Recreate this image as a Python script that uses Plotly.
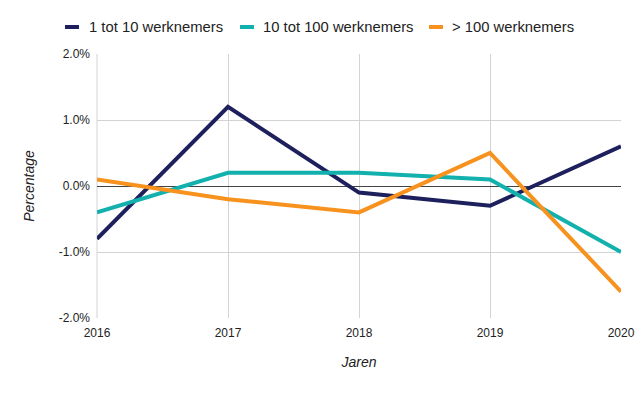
import plotly.graph_objects as go

years = [2016, 2017, 2018, 2019, 2020]
series_names = ["1 tot 10 werknemers", "10 tot 100 werknemers", "> 100 werknemers"]
small = [-0.8, 1.2, -0.1, -0.3, 0.6]
medium = [-0.4, 0.2, 0.2, 0.1, -1.0]
large = [0.1, -0.2, -0.4, 0.5, -1.6]
colors = ["#1d205c", "#12b1ad", "#f7921e"]
y_ticks = [-2.0, -1.0, 0.0, 1.0, 2.0]
y_tick_labels = ["-2.0%", "-1.0%", "0.0%", "1.0%", "2.0%"]

# plot area in page pixels: x 97..621, y 54..318 (page body margin removed)
PX_L, PX_R, PX_T, PX_B = 97, 621, 54, 318
W, H = 640, 396


def px_x(p):
    return (p - PX_L) / (PX_R - PX_L)


def px_y(p):
    return (PX_B - p) / (PX_B - PX_T)


fig = go.Figure()
for name, vals, c in zip(series_names, [small, medium, large], colors):
    fig.add_trace(go.Scatter(x=years, y=vals, mode="lines", name=name,
                             line=dict(color=c, width=4), showlegend=False))

# manual legend (symbol start, text start) in page pixels
legend_pos = [(65, 87), (240, 261), (429, 450)]
legend_y = 27
for name, c, (sx, tx) in zip(series_names, colors, legend_pos):
    fig.add_shape(type="line", xref="paper", yref="paper",
                  x0=px_x(sx), x1=px_x(sx + 14), y0=px_y(legend_y), y1=px_y(legend_y),
                  line=dict(color=c, width=4))
    fig.add_annotation(xref="paper", yref="paper", x=px_x(tx), y=px_y(legend_y),
                       xanchor="left", yanchor="middle", text=name, showarrow=False,
                       font=dict(size=14.8, color="#222"))

fig.update_layout(
    width=W, height=H,
    margin=dict(l=PX_L, r=W - PX_R, t=PX_T, b=H - PX_B, autoexpand=False),
    paper_bgcolor="white", plot_bgcolor="white",
    font=dict(family="Liberation Sans, Arial, sans-serif", size=12, color="#222"),
    showlegend=False,
)
fig.update_xaxes(range=[2016, 2020], tickvals=years, ticktext=[str(y) for y in years],
                 showgrid=True, gridcolor="#d3d3d3", gridwidth=1, zeroline=False,
                 showline=False, ticks="", tickfont=dict(size=12, color="#222"),
                 ticklabelstandoff=6, ticklabeloverflow="allow", automargin=False,
                 title=dict(text="<i>Jaren</i>", font=dict(size=14, color="#222"), standoff=18))
fig.update_yaxes(range=[-2.0, 2.0], tickvals=y_ticks, ticktext=y_tick_labels,
                 showgrid=True, gridcolor="#d3d3d3", gridwidth=1,
                 zeroline=True, zerolinecolor="#444444", zerolinewidth=1.2,
                 showline=False, ticks="", tickfont=dict(size=12, color="#222"),
                 ticklabelstandoff=6, automargin=False,
                 title=dict(text="<i>Percentage</i>", font=dict(size=14, color="#222"), standoff=20))
fig.add_shape(type="line", xref="paper", yref="paper", x0=0, x1=0, y0=0, y1=1,
              line=dict(color="#d3d3d3", width=1), layer="below")

fig.write_html("out.html", config={"displayModeBar": False},
               post_script="document.body.style.margin='0';document.body.style.overflow='hidden';")
